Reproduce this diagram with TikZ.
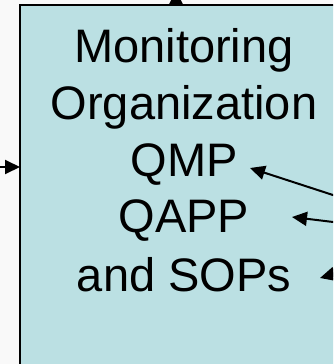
\documentclass[tikz,border=0pt]{standalone}
\usepackage{fontspec}
\setmainfont{Liberation Sans}
\usetikzlibrary{arrows.meta}
\definecolor{panelfill}{HTML}{BBE0E3}
\definecolor{pagebg}{HTML}{F9F9F9}
\begin{document}
\begin{tikzpicture}[x=1pt,y=-1pt,
  linetext/.style={font=\fontsize{47}{56}\selectfont, inner sep=0pt, anchor=base},
  link/.style={line width=2pt, -{Triangle[length=15pt,width=14pt]}}]
\useasboundingbox (0,0) rectangle (333,364);
\clip (0,0) rectangle (333,364);
\fill[pagebg] (0,0) rectangle (333,364);
% the organization panel (runs past the right and bottom edges)
\node[draw, line width=2pt, fill=panelfill, minimum width=340pt, minimum height=380pt,
      anchor=north west, inner sep=0pt, outer sep=0pt] (panel) at (20,5) {};
% panel text
\node[linetext] (l1) at (184,62) {Monitoring};
\node[linetext] (l2) at (184,119) {Organization};
\node[linetext] (qmp) at (184,176.5) {QMP};
\node[linetext] (qapp) at (184,232) {QAPP};
\node[linetext] (sops) at (184,291.5) {and SOPs};
% connector end points
\coordinate (leftsrc) at (-5,167);
\coordinate (leftin) at (20,167);
\coordinate (topsrc) at (176,5);
\coordinate (topout) at (176,-10);
\coordinate (hub) at (465,238);
\coordinate (qmpin) at (250,168);
\coordinate (qappin) at (292,217);
\coordinate (sopsin) at (320,278);
% connectors
\draw[link] (leftsrc) -- (leftin);
\draw[link] (topsrc) -- (topout);
\draw[link] (hub) -- (qmpin);
\draw[link] (hub) -- (qappin);
\draw[link] (hub) -- (sopsin);
\end{tikzpicture}
\end{document}
